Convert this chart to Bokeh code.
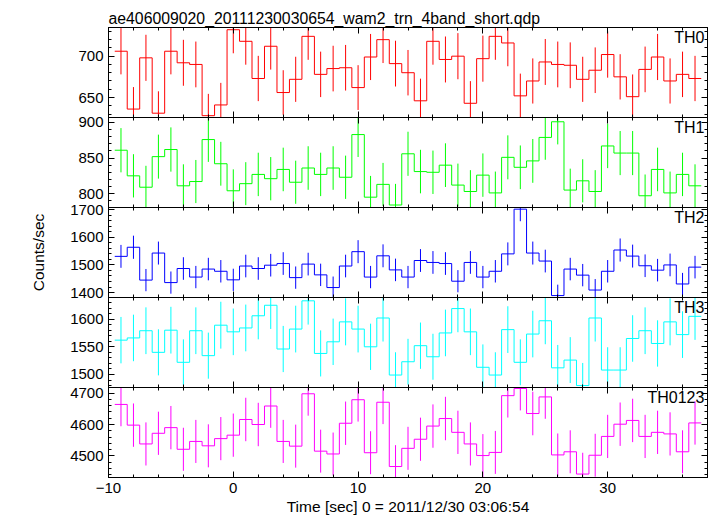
from bokeh.plotting import figure
from bokeh.layouts import column
from bokeh.models import (Range1d, LinearAxis, SingleIntervalTicker, Label, Grid,
                          CustomJSTickFormatter)
from bokeh.embed import file_html
from bokeh.resources import INLINE

# ---------------- data ----------------
title_text = "ae406009020_20111230030654_wam2_trn_4band_short.qdp"
x_label = "Time [sec] 0 = 2011/12/30 03:06:54"
y_label = "Counts/sec"

time = list(range(-9, 38))          # bin centres [sec]
bin_width = 1.0

x_ticks = [-10, 0, 10, 20, 30]
x_tick_labels = ["\u221210", "0", "10", "20", "30"]

band_names = ["TH0", "TH1", "TH2", "TH3", "TH0123"]
band_colors = ["#ff0000", "#00ff00", "#0000ff", "#00ffff", "#ff00ff"]

th0 = [706, 636, 698, 631, 706, 692, 690, 628, 641, 732,
       718, 673, 712, 656, 672, 724, 678, 685, 686, 662,
       699, 720, 691, 680, 646, 718, 696, 700, 643, 697,
       724, 716, 652, 670, 693, 690, 689, 672, 683, 702,
       675, 651, 684, 699, 670, 678, 673]
th0_err = [28.0, 26.6, 27.9, 26.5, 28.0, 27.8, 27.7, 26.4, 26.7, 28.5,
           28.3, 27.4, 28.2, 27.0, 27.3, 28.4, 27.5, 27.6, 27.6, 27.1,
           27.9, 28.3, 27.7, 27.5, 26.8, 28.3, 27.8, 27.9, 26.8, 27.9,
           28.4, 28.2, 26.9, 27.3, 27.8, 27.7, 27.7, 27.3, 27.6, 28.0,
           27.4, 26.9, 27.6, 27.9, 27.3, 27.5, 27.4]

th1 = [861, 825, 809, 852, 862, 811, 817, 876, 842, 804,
       814, 827, 821, 834, 816, 836, 827, 836, 823, 883,
       795, 813, 784, 856, 831, 830, 840, 812, 803, 826,
       801, 851, 837, 846, 879, 901, 805, 818, 803, 867,
       857, 857, 797, 834, 801, 827, 811]
th1_err = [31.1, 30.4, 30.1, 30.9, 31.1, 30.2, 30.3, 31.4, 30.8, 30.1,
           30.2, 30.5, 30.4, 30.6, 30.3, 30.6, 30.5, 30.6, 30.4, 31.5,
           29.9, 30.2, 29.7, 31.0, 30.6, 30.5, 30.7, 30.2, 30.0, 30.5,
           30.0, 30.9, 30.7, 30.8, 31.4, 31.8, 30.1, 30.3, 30.0, 31.2,
           31.0, 31.0, 29.9, 30.6, 30.0, 30.5, 30.2]

th2 = [1531, 1564, 1445, 1543, 1436, 1487, 1456, 1485, 1477, 1446,
       1496, 1487, 1499, 1505, 1454, 1503, 1464, 1418, 1496, 1548,
       1456, 1533, 1482, 1456, 1516, 1509, 1505, 1441, 1509, 1456,
       1477, 1540, 1702, 1543, 1514, 1389, 1485, 1463, 1409, 1477,
       1554, 1532, 1497, 1481, 1500, 1431, 1492]
th2_err = [41.5, 41.9, 40.3, 41.6, 40.2, 40.9, 40.4, 40.8, 40.7, 40.3,
           41.0, 40.9, 41.0, 41.1, 40.4, 41.1, 40.6, 39.9, 41.0, 41.7,
           40.4, 41.5, 40.8, 40.4, 41.3, 41.2, 41.1, 40.2, 41.2, 40.4,
           40.7, 41.6, 43.7, 41.6, 41.2, 39.5, 40.8, 40.5, 39.8, 40.7,
           41.8, 41.5, 41.0, 40.8, 41.1, 40.1, 40.9]

th3 = [1562, 1566, 1579, 1540, 1580, 1522, 1579, 1534, 1589, 1577,
       1584, 1606, 1625, 1546, 1582, 1633, 1538, 1559, 1595, 1582,
       1550, 1602, 1499, 1523, 1552, 1532, 1575, 1619, 1577, 1513,
       1499, 1581, 1522, 1573, 1597, 1512, 1526, 1480, 1602, 1508,
       1508, 1565, 1579, 1556, 1595, 1572, 1605]
th3_err = [41.9, 42.0, 42.2, 41.6, 42.2, 41.4, 42.2, 41.6, 42.3, 42.1,
           42.2, 42.5, 42.8, 41.7, 42.2, 42.9, 41.6, 41.9, 42.4, 42.2,
           41.8, 42.5, 41.1, 41.4, 41.8, 41.5, 42.1, 42.7, 42.1, 41.3,
           41.1, 42.2, 41.4, 42.1, 42.4, 41.3, 41.4, 40.8, 42.5, 41.2,
           41.2, 42.0, 42.2, 41.8, 42.4, 42.1, 42.5]

th0123 = [4664, 4598, 4538, 4572, 4590, 4521, 4546, 4532, 4555, 4566,
          4616, 4600, 4659, 4546, 4531, 4698, 4515, 4506, 4604, 4679,
          4510, 4671, 4466, 4524, 4553, 4595, 4619, 4575, 4538, 4501,
          4511, 4692, 4715, 4635, 4688, 4503, 4513, 4442, 4502, 4562,
          4601, 4613, 4562, 4575, 4570, 4513, 4605]
th0123_err = [69.6, 69.1, 68.7, 68.9, 69.1, 68.6, 68.7, 68.6, 68.8, 68.9,
              69.3, 69.2, 69.6, 68.7, 68.6, 69.9, 68.5, 68.4, 69.2, 69.7,
              68.5, 69.7, 68.1, 68.6, 68.8, 69.1, 69.3, 69.0, 68.7, 68.4,
              68.5, 69.8, 70.0, 69.4, 69.8, 68.4, 68.5, 67.9, 68.4, 68.9,
              69.2, 69.2, 68.9, 69.0, 68.9, 68.5, 69.2]

band_values = [th0, th1, th2, th3, th0123]
band_errors = [th0_err, th1_err, th2_err, th3_err, th0123_err]

# ---------------- layout / style ----------------
X_RANGE = (-10, 38)
Y_RANGES = [(625.8, 734.7), (780.5, 907.0), (1382, 1708), (1476.5, 1639), (4431, 4718)]
Y_INTERVALS = [50, 50, 100, 50, 100]
FONT = "Liberation Sans"
TICK_FONT = "15px"
FRAME_W, FRAME_H = 599, 90
B = 12   # spare canvas above/below inner panels (overlapped by neighbours)


def style_axis(ax, show_labels):
    ax.major_tick_in = 6
    ax.major_tick_out = 0
    ax.minor_tick_in = 3
    ax.minor_tick_out = 0
    ax.axis_line_color = "black"
    ax.major_tick_line_color = "black"
    ax.minor_tick_line_color = "black"
    ax.axis_label_text_color = "black"
    if show_labels:
        ax.major_label_text_font = FONT
        ax.major_label_text_font_size = TICK_FONT
        ax.major_label_text_color = "black"
        ax.major_label_standoff = 5
    else:
        ax.formatter = CustomJSTickFormatter(code="return ''")
        ax.major_label_text_font_size = "1px"
        ax.major_label_standoff = 0


panels = []
n = len(band_names)
for i in range(n):
    first = i == 0
    last = i == n - 1
    p = figure(frame_width=FRAME_W, frame_height=FRAME_H,
               x_range=Range1d(*X_RANGE), y_range=Range1d(*Y_RANGES[i]),
               x_axis_location=None, y_axis_location=None,
               output_backend="svg", toolbar_location=None,
               min_border_left=108, min_border_right=8,
               min_border_top=27 if first else B,
               min_border_bottom=37 if last else B,
               background_fill_color="white", border_fill_color=None,
               outline_line_color="black",
               margin=(0, 0, 0, 0) if first else (-2 * B, 0, 0, 0))

    xt = SingleIntervalTicker(interval=10, num_minor_ticks=5)
    yt = SingleIntervalTicker(interval=Y_INTERVALS[i], num_minor_ticks=5)

    left = LinearAxis(ticker=yt)
    style_axis(left, True)
    right = LinearAxis(ticker=yt)
    style_axis(right, False)
    below = LinearAxis(ticker=xt)
    style_axis(below, last)
    above = LinearAxis(ticker=xt)
    style_axis(above, False)
    if last:
        below.major_label_overrides = {t: s for t, s in zip(x_ticks, x_tick_labels)}
        below.axis_label = x_label
        below.axis_label_text_font = FONT
        below.axis_label_text_font_size = "15.5px"
        below.axis_label_text_font_style = "normal"
        below.axis_label_text_color = "black"
        below.axis_label_standoff = 2
    if i == 2:
        left.axis_label = y_label
        left.axis_label_text_font = FONT
        left.axis_label_text_font_size = "15.5px"
        left.axis_label_text_font_style = "normal"
        left.axis_label_text_color = "black"
        left.axis_label_standoff = 20

    p.add_layout(left, "left")
    p.add_layout(right, "right")
    p.add_layout(below, "below")
    p.add_layout(above, "above")

    for r in list(p.center):
        if isinstance(r, Grid):
            r.visible = False

    vals = band_values[i]
    errs = band_errors[i]
    col = band_colors[i]

    # step histogram: left edges + final right edge
    edges = [t - bin_width / 2 for t in time] + [time[-1] + bin_width / 2]
    levels = list(vals) + [vals[-1]]
    p.step(edges, levels, mode="after", line_color=col, line_width=1)

    lo = [v - e for v, e in zip(vals, errs)]
    hi = [v + e for v, e in zip(vals, errs)]
    p.segment(x0=time, y0=lo, x1=time, y1=hi, line_color=col, line_width=1)

    y0, y1 = Y_RANGES[i]
    p.add_layout(Label(x=X_RANGE[1] - 0.25, y=y1 - 1.0 * (y1 - y0) / FRAME_H,
                       text=band_names[i], text_align="right", text_baseline="top",
                       text_font=FONT, text_font_size="16px", text_color="black"))

    if first:
        p.title.text = title_text
        p.title.text_font = FONT
        p.title.text_font_size = "15.8px"
        p.title.text_font_style = "normal"
        p.title.align = "left"
        p.title.offset = 0
        p.title.standoff = 2
        p.title.text_color = "black"

    panels.append(p)

layout = column(*panels, spacing=0)

open("out.html", "w").write(file_html(layout, INLINE))
